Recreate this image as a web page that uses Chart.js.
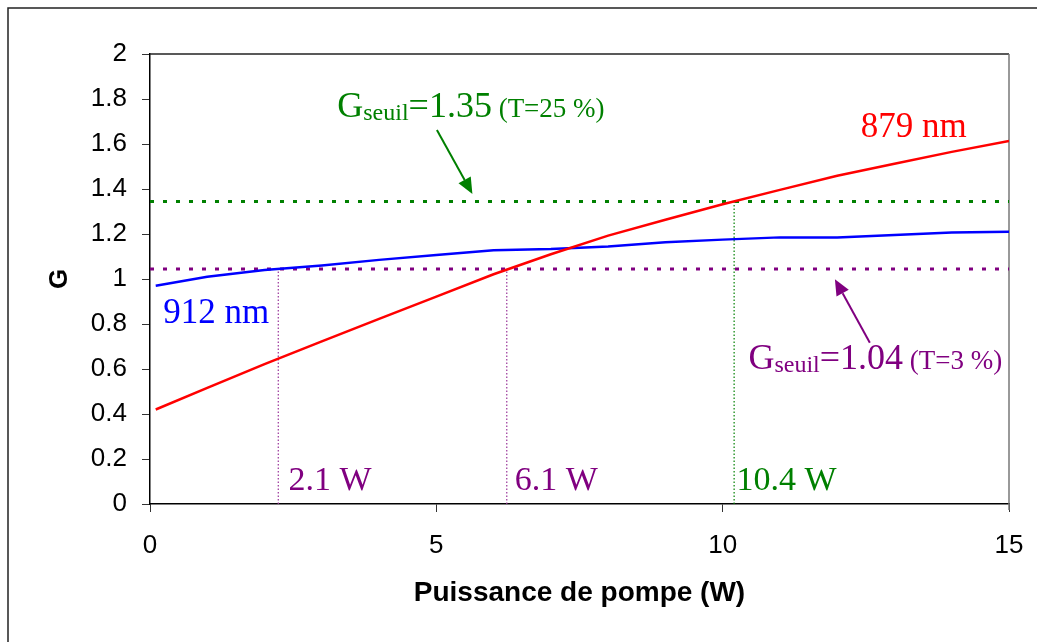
<!DOCTYPE html>
<html>
<head>
<meta charset="utf-8">
<script src="https://cdn.jsdelivr.net/npm/chart.js@4.4.0/dist/chart.umd.min.js"></script>
<style>
  html, body { margin: 0; padding: 0; background: #fff; }
  canvas { display: block; }
</style>
</head>
<body>
<canvas id="gain-chart" width="1037" height="642"></canvas>
<script>
// ─── Data ─────────────────────────────────────────────────────────────
const pompe   = [0.1, 1, 2, 3, 4, 5, 6, 7, 8, 9, 10, 11, 12, 13, 14, 15];
const gain879 = [0.42, 0.516, 0.622, 0.723, 0.823, 0.922, 1.021, 1.110, 1.193, 1.263, 1.332, 1.396, 1.459, 1.512, 1.565, 1.613];
const gain912 = [0.97, 1.01, 1.04, 1.06, 1.085, 1.107, 1.128, 1.133, 1.144, 1.163, 1.175, 1.185, 1.185, 1.196, 1.207, 1.21];

const seuilT25 = 1.345;   // G seuil, T = 25 %
const seuilT3  = 1.044;   // G seuil, T = 3 %
const pompeSeuilT3  = [2.24, 6.23];   // where the curves cross the 3 % threshold
const pompeSeuilT25 = [10.2];         // where 879 nm crosses the 25 % threshold

const xTicks = [0, 5, 10, 15];

const GREEN = '#008000';
const PURPLE = '#800080';
const SERIF = "'Liberation Serif', 'Times New Roman', serif";

// ─── Helpers ──────────────────────────────────────────────────────────
const toPoints = (xs, ys) => xs.map((x, i) => ({ x, y: ys[i] }));

function hLine(y, color) {
  return {
    data: [{ x: 0, y }, { x: 15, y }],
    borderColor: color, borderWidth: 3, borderDash: [4, 9],
    pointRadius: 0, fill: false
  };
}

function vLine(x, yTop, color) {
  return {
    data: [{ x, y: 0 }, { x, y: yTop }],
    borderColor: color, borderWidth: 1.2, borderDash: [1.5, 2],
    pointRadius: 0, fill: false
  };
}

// text labels drawn on the plot, positions in data units
const labels = [
  { x: 12.41, y: 1.633, color: '#ff0000', parts: [['879 nm', 35]] },
  { x: 0.23, y: 0.804, color: '#0000ff', parts: [['912 nm', 35]] },
  { x: 2.42, y: 0.062, color: PURPLE, parts: [['2.1 W', 34]] },
  { x: 6.37, y: 0.062, color: PURPLE, parts: [['6.1 W', 34]] },
  { x: 10.24, y: 0.062, color: GREEN, parts: [['10.4 W', 34]] },
  { x: 3.27, y: 1.72, color: GREEN,
    parts: [['G', 36], ['seuil', 24, 3], ['=1.35', 36], [' (T=25 %)', 27]] },
  { x: 10.45, y: 0.6, color: PURPLE,
    parts: [['G', 36], ['seuil', 24, 3], ['=1.04', 36], [' (T=3 %)', 27]] }
];

const arrows = [
  { from: [5.01, 1.662], to: [5.63, 1.378], color: GREEN },
  { from: [12.57, 0.717], to: [11.96, 0.999], color: PURPLE }
];

// ─── Plugins ──────────────────────────────────────────────────────────
const framePlugin = {
  id: 'frame',
  beforeDraw(chart) {
    const ctx = chart.ctx;
    ctx.save();
    ctx.fillStyle = '#ffffff';
    ctx.fillRect(0, 0, chart.width, chart.height);
    ctx.strokeStyle = '#222';
    ctx.lineWidth = 1.5;
    ctx.beginPath();
    ctx.moveTo(8, chart.height + 2);
    ctx.lineTo(8, 8);
    ctx.lineTo(chart.width + 2, 8);
    ctx.stroke();
    ctx.restore();
  },
  beforeDatasetsDraw(chart) {
    const { ctx, chartArea: a } = chart;
    ctx.save();
    ctx.lineWidth = 1.5;
    ctx.strokeStyle = '#222';
    ctx.beginPath();
    ctx.moveTo(a.left, a.top);
    ctx.lineTo(a.right, a.top);
    ctx.stroke();
    ctx.strokeStyle = '#777';
    ctx.beginPath();
    ctx.moveTo(a.right, a.top);
    ctx.lineTo(a.right, a.bottom + 6);
    ctx.stroke();
    ctx.restore();
  }
};

const notesPlugin = {
  id: 'notes',
  afterDatasetsDraw(chart) {
    const { ctx, scales: { x, y } } = chart;
    ctx.save();
    ctx.textBaseline = 'alphabetic';
    ctx.textAlign = 'left';
    labels.forEach(l => {
      let px = x.getPixelForValue(l.x);
      const py = y.getPixelForValue(l.y);
      ctx.fillStyle = l.color;
      l.parts.forEach(([txt, size, dy]) => {
        ctx.font = `${size}px ${SERIF}`;
        ctx.fillText(txt, px, py + (dy || 0));
        px += ctx.measureText(txt).width;
      });
    });
    arrows.forEach(a => {
      const x1 = x.getPixelForValue(a.from[0]), y1 = y.getPixelForValue(a.from[1]);
      const x2 = x.getPixelForValue(a.to[0]), y2 = y.getPixelForValue(a.to[1]);
      const ang = Math.atan2(y2 - y1, x2 - x1);
      const head = 16, half = 7;
      const bx = x2 - head * Math.cos(ang), by = y2 - head * Math.sin(ang);
      ctx.strokeStyle = a.color;
      ctx.fillStyle = a.color;
      ctx.lineWidth = 2;
      ctx.beginPath();
      ctx.moveTo(x1, y1);
      ctx.lineTo(bx, by);
      ctx.stroke();
      ctx.beginPath();
      ctx.moveTo(x2, y2);
      ctx.lineTo(bx + half * Math.sin(ang), by - half * Math.cos(ang));
      ctx.lineTo(bx - half * Math.sin(ang), by + half * Math.cos(ang));
      ctx.closePath();
      ctx.fill();
    });
    ctx.restore();
  }
};

// ─── Chart ────────────────────────────────────────────────────────────
Chart.defaults.font.family = "'Liberation Sans', Arial, sans-serif";
Chart.defaults.color = '#000';

new Chart(document.getElementById('gain-chart'), {
  type: 'line',
  data: {
    datasets: [
      { label: '879 nm', data: toPoints(pompe, gain879), borderColor: '#ff0000', borderWidth: 2.5, pointRadius: 0, tension: 0, fill: false },
      { label: '912 nm', data: toPoints(pompe, gain912), borderColor: '#0000ff', borderWidth: 2.5, pointRadius: 0, tension: 0, fill: false },
      hLine(seuilT25, GREEN),
      hLine(seuilT3, PURPLE),
      ...pompeSeuilT3.map(p => vLine(p, seuilT3, '#993399')),
      ...pompeSeuilT25.map(p => vLine(p, seuilT25, GREEN))
    ]
  },
  options: {
    responsive: false,
    animation: false,
    events: [],
    layout: { padding: { left: 0, top: 54, right: 28, bottom: 0 } },
    plugins: { legend: { display: false }, tooltip: { enabled: false } },
    scales: {
      x: {
        type: 'linear',
        min: 0, max: 15,
        afterBuildTicks: s => { s.ticks = xTicks.map(v => ({ value: v })); },
        afterFit: s => { s.height = 138; s.paddingLeft = 0; s.paddingRight = 0; },
        ticks: { font: { size: 26 }, padding: 18, maxRotation: 0 },
        grid: { drawOnChartArea: false, tickLength: 8, color: '#333' },
        border: { color: '#000', width: 1.5 },
        title: { display: true, text: 'Puissance de pompe (W)', font: { size: 28, weight: 'bold' }, padding: { bottom: 32 } }
      },
      y: {
        min: 0, max: 2,
        afterFit: s => { s.width = 150; },
        ticks: { stepSize: 0.2, font: { size: 26 }, padding: 15, callback: v => String(Math.round(v * 10) / 10) },
        grid: { drawOnChartArea: false, tickLength: 8, color: '#333' },
        border: { color: '#000', width: 1.5 },
        title: { display: true, text: 'G', font: { size: 26, weight: 'bold' }, padding: { top: 44 } }
      }
    }
  },
  plugins: [framePlugin, notesPlugin]
});
</script>
</body>
</html>
